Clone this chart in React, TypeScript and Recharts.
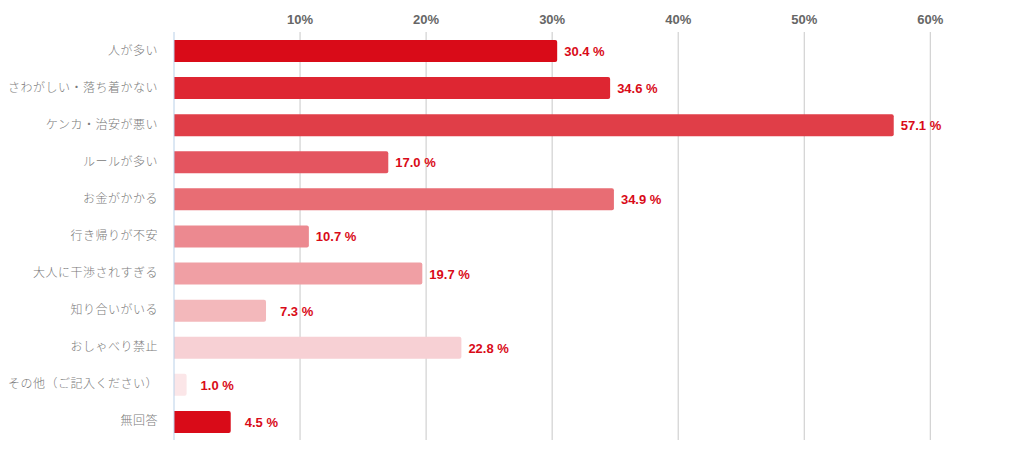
import { BarChart, Bar, XAxis, YAxis, CartesianGrid, Cell, LabelList } from 'recharts'

const categories = [
  '人が多い',
  'さわがしい・落ち着かない',
  'ケンカ・治安が悪い',
  'ルールが多い',
  'お金がかかる',
  '行き帰りが不安',
  '大人に干渉されすぎる',
  '知り合いがいる',
  'おしゃべり禁止',
  'その他（ご記入ください）',
  '無回答',
]

const values = [30.4, 34.6, 57.1, 17.0, 34.9, 10.7, 19.7, 7.3, 22.8, 1.0, 4.5]

const xTicks = [10, 20, 30, 40, 50, 60]

const COLORS = [
  '#d90b18', '#de2632', '#e03e48', '#e45560', '#e86d74', '#ec8990',
  '#f09fa4', '#f3b8bb', '#f7d0d4', '#fbe6e8', '#d90b18',
]

const data = categories.map((name, i) => ({ name, value: values[i] }))

const renderValue = (props: any) => {
  const { x, y, width, height, value } = props
  const gap = value < 10 ? 14 : 7
  return (
    <text x={x + width + gap} y={y + height / 2 + 5} fill="#d90b18"
      fontFamily="'Liberation Sans', Arial, sans-serif" fontWeight="bold" fontSize={13}>
      {value.toFixed(1)} %
    </text>
  )
}

const renderCatTick = (props: any) => {
  const { x, y, payload } = props
  return (
    <text x={x - 8} y={y + 4} textAnchor="end" fill="#7a7a7a"
      fontFamily="'Noto Sans CJK JP', sans-serif" fontSize={12} fontWeight={300} letterSpacing={0.5}>
      {payload.value}
    </text>
  )
}

// grid only at the labelled ticks, not at the plot edges
const gridAtTicks = (props: any) => {
  const scale = props.xAxis?.scale
  if (typeof scale === 'function') return xTicks.map((t) => scale(t))
  if (scale && typeof scale.map === 'function') return xTicks.map((t) => scale.map(t))
  return []
}

export default function App() {
  return (
    <BarChart width={1008} height={447} data={data} layout="vertical"
      margin={{ top: 0, right: 0, bottom: 15, left: 0 }} barCategoryGap={15}>
      <CartesianGrid horizontal={false} stroke="#c8c8c8" verticalCoordinatesGenerator={gridAtTicks} />
      <XAxis type="number" orientation="top" domain={[0, 66.8]} ticks={xTicks} height={24}
        axisLine={false} tickLine={false} tickFormatter={(v) => `${v}%`}
        tick={{ fill: '#666', fontSize: 13, fontWeight: 'bold', fontFamily: "'Liberation Sans', Arial, sans-serif" }} />
      <YAxis type="category" dataKey="name" width={166} axisLine={{ stroke: '#b9d0e8' }}
        tickLine={false} tick={renderCatTick} interval={0} />
      <YAxis yAxisId="bounds" type="number" domain={[0, 11]} ticks={[0, 1, 2, 3, 4, 5, 6, 7, 8, 9, 10, 11]}
        width={0} axisLine={false} tickSize={5} tickLine={{ stroke: '#b9d0e8' }} tick={() => <g />} />
      <Bar dataKey="value" barSize={22} radius={[0, 2, 2, 0]} isAnimationActive={false}>
        {data.map((d, i) => (
          <Cell key={d.name} fill={COLORS[i]} />
        ))}
        <LabelList dataKey="value" content={renderValue} />
      </Bar>
    </BarChart>
  )
}
